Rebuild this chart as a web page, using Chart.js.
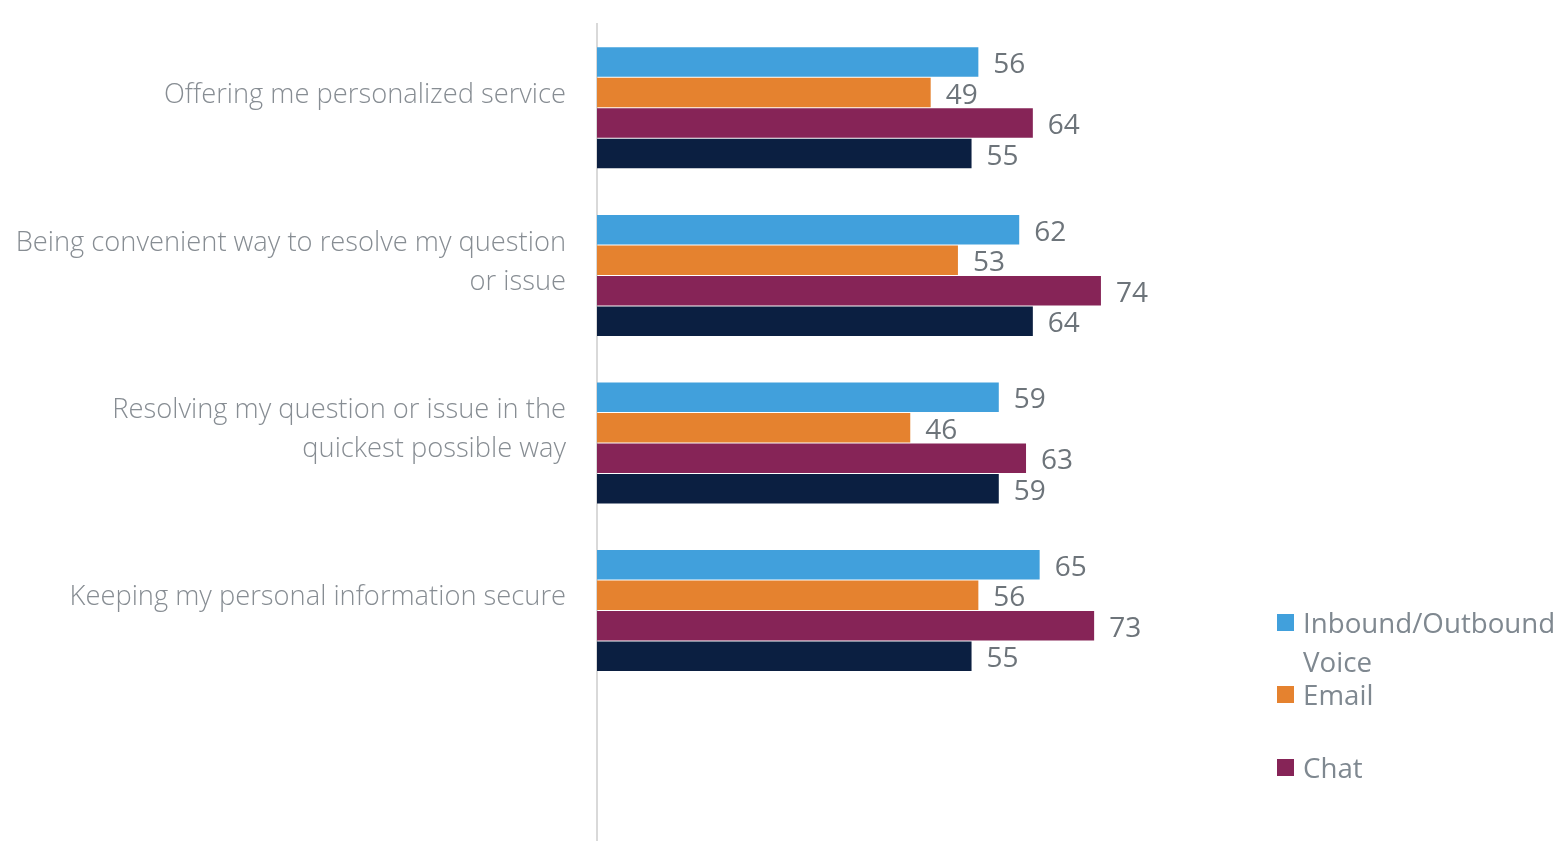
<!DOCTYPE html>
<html>
<head>
<meta charset="utf-8">
<script src="https://cdn.jsdelivr.net/npm/chart.js@4/dist/chart.umd.min.js"></script>
<style>
  html, body { margin: 0; padding: 0; background: #fff; overflow: hidden; width: 1558px; height: 841px; }
  #wrap { position: absolute; left: 0; top: 0; width: 1558px; height: 862px; }
  #legend { position: absolute; left: 1277px; top: 603px; width: 281px; font-family: 'Open Sans', 'Noto Sans', sans-serif; font-size: 27.7px; color: #7f8890; }
  .item { display: flex; align-items: flex-start; line-height: 39px; }
  .box { width: 17px; height: 17px; flex: none; margin-top: 11px; margin-right: 9px; }
  .txt { width: 260px; }
</style>
</head>
<body>
<div id="wrap"><canvas id="c" width="1558" height="862"></canvas></div>
<div id="legend"></div>
<script>
const categories = [
  'Offering me personalized service',
  ['Being convenient way to resolve my question', 'or issue'],
  ['Resolving my question or issue in the', 'quickest possible way'],
  'Keeping my personal information secure',
  ''
];
const seriesNames = ['Inbound/Outbound Voice', 'Email', 'Chat', 'Series 4'];
const seriesColors = ['#41a0dc', '#e5822f', '#862457', '#0b1f41'];
const voice = [56, 62, 59, 65];
const email = [49, 53, 46, 56];
const chat = [64, 74, 63, 73];
const series4 = [55, 64, 59, 55];
const legendSeries = [0, 1, 2];

const seriesValues = [voice, email, chat, series4];

const valueLabels = {
  id: 'valueLabels',
  afterDatasetsDraw(chart) {
    const ctx = chart.ctx;
    ctx.save();
    ctx.font = '28px "Open Sans", "Noto Sans", sans-serif';
    ctx.fillStyle = '#6d747a';
    ctx.textAlign = 'left';
    ctx.textBaseline = 'middle';
    chart.data.datasets.forEach((ds, i) => {
      const meta = chart.getDatasetMeta(i);
      meta.data.forEach((bar, j) => {
        const v = ds.data[j];
        if (v == null) return;
        ctx.fillText(String(v), bar.x + 15, bar.y + 3);
      });
    });
    ctx.restore();
  }
};

new Chart(document.getElementById('c'), {
  type: 'bar',
  data: {
    labels: categories,
    datasets: seriesValues.map((vals, i) => ({
      label: seriesNames[i],
      data: vals,
      backgroundColor: seriesColors[i],
      borderWidth: 0,
      categoryPercentage: 0.728,
      barPercentage: 0.967
    }))
  },
  options: {
    indexAxis: 'y',
    responsive: false,
    animation: false,
    layout: { padding: { top: 24, right: 280, bottom: 0, left: 0 } },
    plugins: { legend: { display: false }, tooltip: { enabled: false } },
    scales: {
      x: { display: false, min: 0, max: 100 },
      y: {
        afterFit(scale) { scale.width = 597; scale.paddingTop = 0; scale.paddingBottom = 0; },
        grid: { display: false, drawTicks: false },
        border: { display: true, color: '#d9d9d9', width: 2 },
        ticks: {
          padding: 31,
          labelOffset: -13,
          color: '#878d93',
          font: { family: "'Open Sans', 'Noto Sans', sans-serif", size: 27.3, weight: 300, lineHeight: 1.43 }
        }
      }
    }
  },
  plugins: [valueLabels]
});

const legendEl = document.getElementById('legend');
const legendGaps = [0, -6, 34];
legendSeries.forEach((si, k) => {
  const item = document.createElement('div');
  item.className = 'item';
  item.style.marginTop = legendGaps[k] + 'px';
  const box = document.createElement('span');
  box.className = 'box';
  box.style.background = seriesColors[si];
  const txt = document.createElement('span');
  txt.className = 'txt';
  txt.textContent = seriesNames[si];
  item.appendChild(box);
  item.appendChild(txt);
  legendEl.appendChild(item);
});
</script>
</body>
</html>
